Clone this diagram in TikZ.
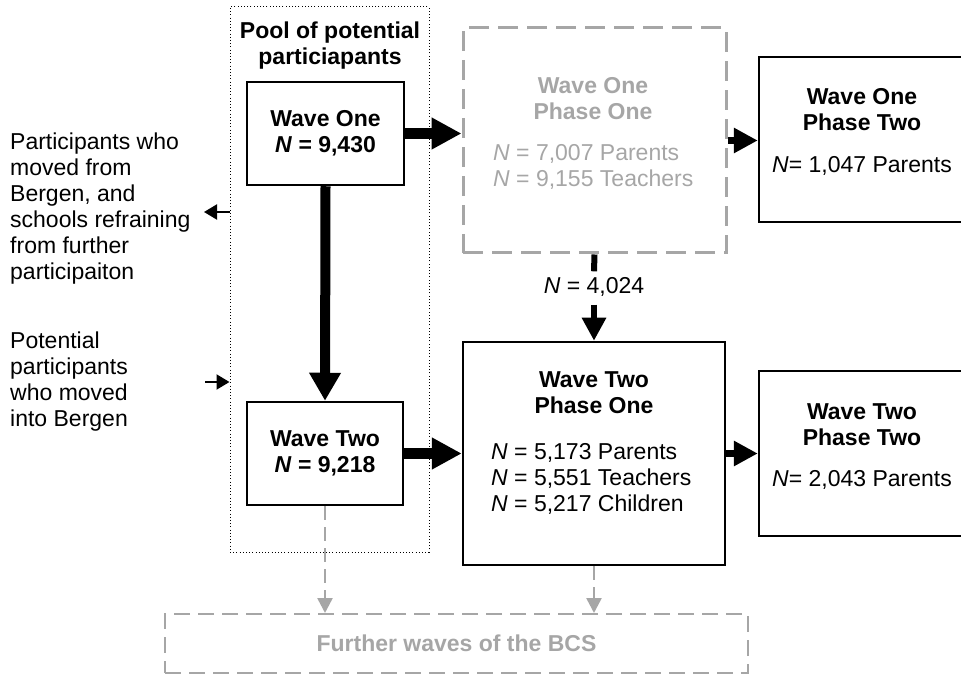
\documentclass[tikz,border=0pt]{standalone}
\usepackage{fontspec}
\setmainfont{Liberation Sans}
\usetikzlibrary{arrows.meta,positioning}
\definecolor{fadegray}{RGB}{166,166,166}

\begin{document}
\begin{tikzpicture}[x=1pt,y=-1pt,
    txt/.style={font=\fontsize{23}{26}\selectfont,inner sep=0pt},
    heading/.style={font=\fontsize{23}{26}\selectfont\bfseries,align=center,inner sep=0pt},
    box/.style={draw,line width=2.5pt,inner sep=0pt},
    fadebox/.style={draw=fadegray,line width=3pt,dash pattern=on 20pt off 9pt,inner sep=0pt},
    bigarrow/.style={line width=11pt,-{Triangle[length=30pt,width=30pt]}},
    midarrow/.style={line width=7pt,-{Triangle[length=24pt,width=24pt]}},
    smallarrow/.style={line width=2pt,-{Triangle[length=13pt,width=15pt]}},
    fadearrow/.style={draw=fadegray,line width=2.5pt,dash pattern=on 14pt off 7pt,-{Triangle[length=15pt,width=15pt]}}]
                \useasboundingbox (0,0) rectangle (961,676);
                % pool of potential participants
                \node [draw,line width=1pt,dash pattern=on 1pt off 2.2pt,minimum width=199pt,minimum height=545pt] (pool) at (329.5,279.5) {};
                \node [heading] (pooltitle) at (330,46) {Pool of potential\\particiapants};
                \node [box,heading,minimum width=157pt,minimum height=103pt] (w1) at (325.5,133.5) {Wave One\\\textit{N} = 9,430};
                \node [box,heading,minimum width=156pt,minimum height=103pt] (w2) at (325,453.5) {Wave Two\\\textit{N} = 9,218};
                % wave one
                \node [fadebox,minimum width=263pt,minimum height=225pt] (w1p1) at (594.5,140.5) {};
                \node [heading,text=fadegray] (w1p1title) at (593,99) {Wave One\\Phase One};
                \node [txt,text=fadegray,align=left,anchor=west] (w1p1n) at (493,167) {\textit{N} = 7,007 Parents\\\textit{N} = 9,155 Teachers};
                \node [box,minimum width=206pt,minimum height=165pt] (w1p2) at (862,139.5) {};
                \node [heading] (w1p2title) at (862,110) {Wave One\\Phase Two};
                \node [txt] (w1p2n) at (862,166) {\textit{N}= 1,047 Parents};
                \node [txt] (carry) at (594,287) {\textit{N} = 4,024};
                % wave two
                \node [box,minimum width=262pt,minimum height=223pt] (w2p1) at (594,453.5) {};
                \node [heading] (w2p1title) at (594,392.5) {Wave Two\\Phase One};
                \node [txt,align=left,anchor=west] (w2p1n) at (491,479) {\textit{N} = 5,173 Parents\\\textit{N} = 5,551 Teachers\\\textit{N} = 5,217 Children};
                \node [box,minimum width=206pt,minimum height=165pt] (w2p2) at (862,453.5) {};
                \node [heading] (w2p2title) at (862,425) {Wave Two\\Phase Two};
                \node [txt] (w2p2n) at (862,480) {\textit{N}= 2,043 Parents};
                \node [draw=fadegray,line width=2pt,dash pattern=on 16pt off 8pt,heading,text=fadegray,minimum width=583pt,minimum height=59pt] (further) at (456.5,643.5) {Further waves of the BCS};
                % moving in and out
                \node [txt,align=left,anchor=west] (movedout) at (10,209) {Participants who\\moved from\\Bergen, and\\schools refraining\\from further\\participaiton};
                \node [txt,align=left,anchor=west] (movedin) at (10,381.5) {Potential\\participants\\who moved\\into Bergen};
                \coordinate (outend) at (204,212);
                \coordinate (instart) at (205,382);
                \draw [smallarrow] (pool.west |- outend) -- (outend);
                \draw [smallarrow] (instart) -- (pool.west |- instart);
                % connectors
                \draw [bigarrow] (w1.east) -- (w1p1.west |- w1.east);
                \draw [line width=10pt,-{Triangle[length=28pt,width=30pt]}] (w1.south) -- (w2.north);
                \draw [bigarrow] (w2.east) -- (w2p1.west |- w2.east);
                \draw [midarrow] (w1p1.east) -- (w1p2.west |- w1p1.east);
                \draw [midarrow] (w2p1.east) -- (w2p2.west);
                \draw [line width=6pt] (w1p1.south) -- ([yshift=6pt]carry.north);
                \draw [line width=6pt,-{Triangle[length=23pt,width=23pt]}] ([yshift=-8pt]carry.south) -- (w2p1.north);
                \draw [fadearrow] (w2.south) -- (w2.south |- further.north);
                \draw [fadearrow] (w2p1.south) -- (w2p1.south |- further.north);
            \end{tikzpicture}
\end{document}
